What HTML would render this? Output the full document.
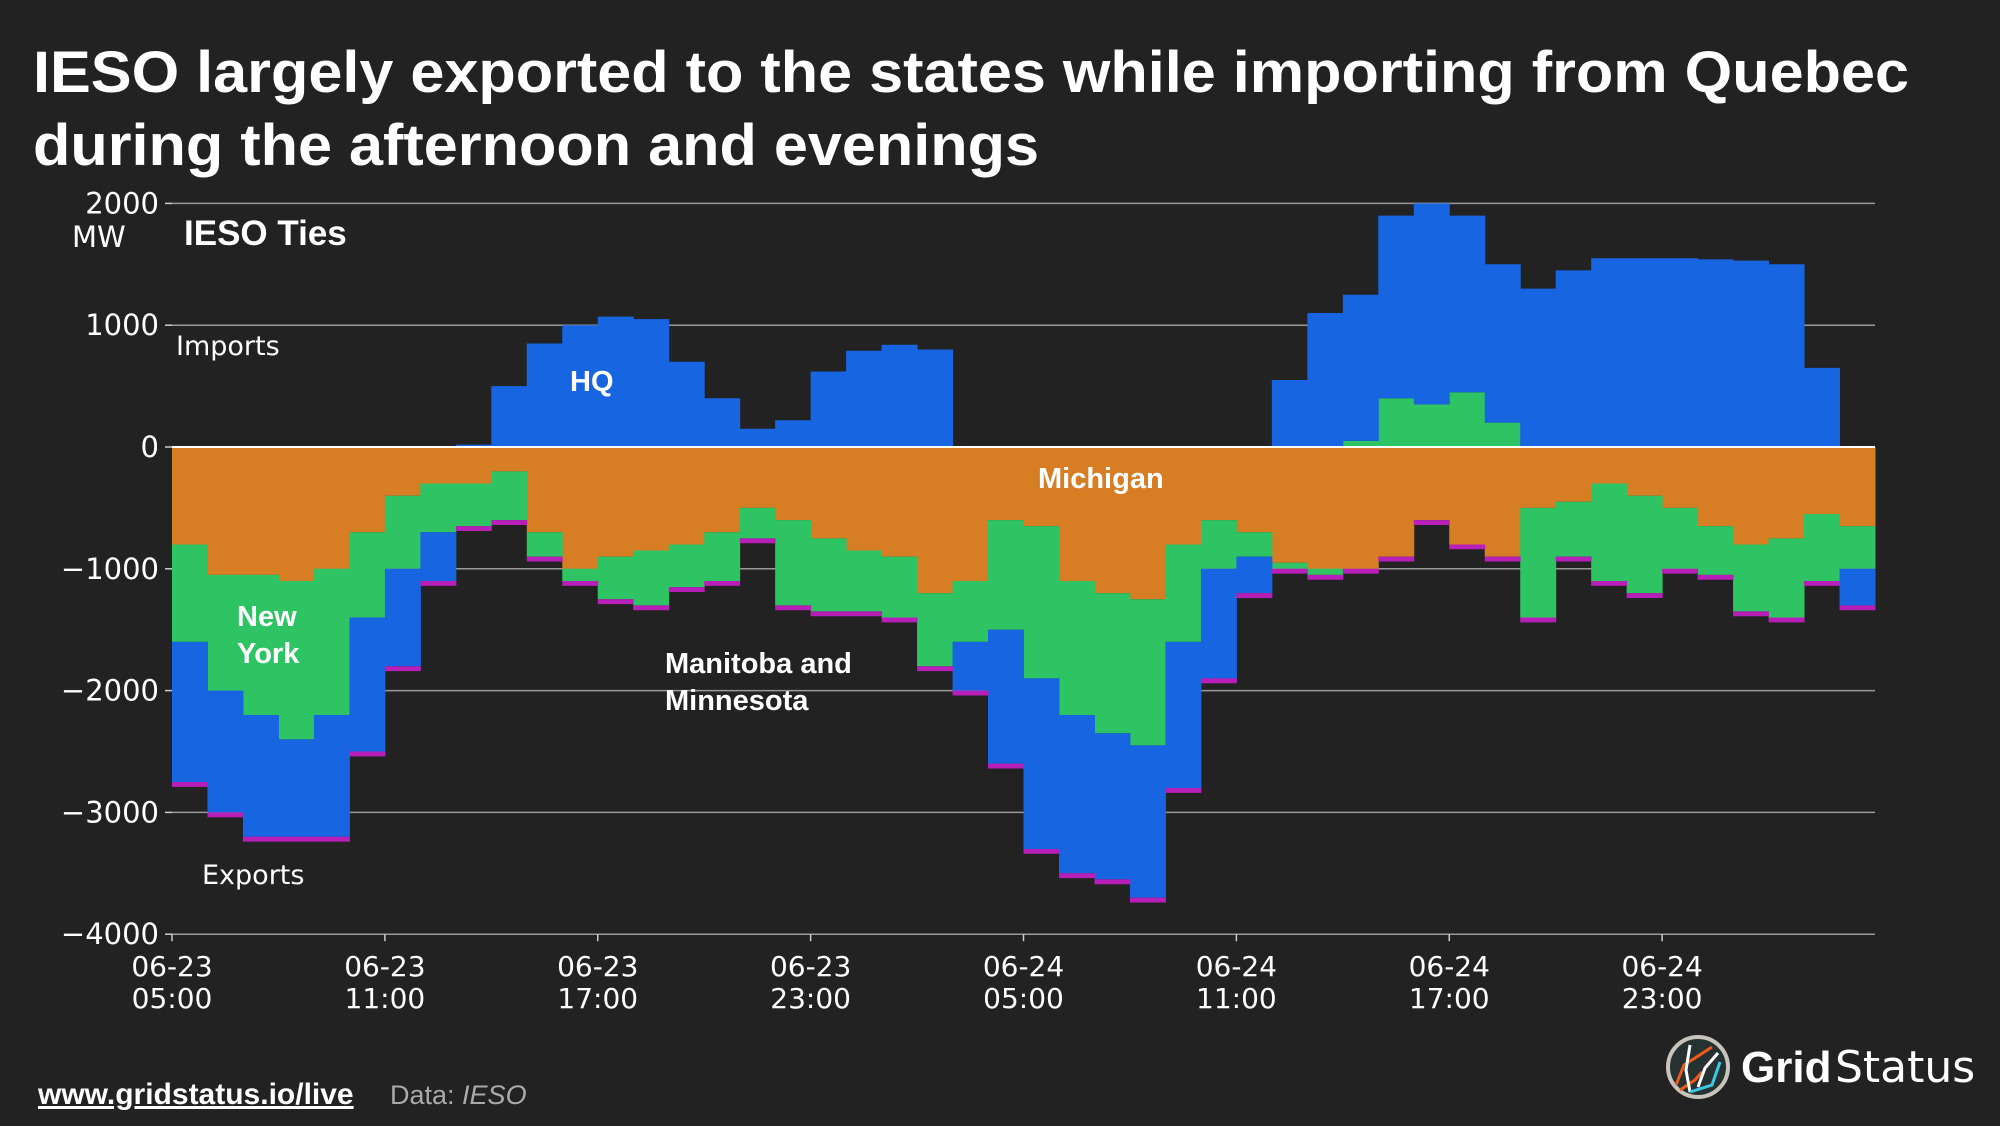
<!DOCTYPE html>
<html><head><meta charset="utf-8"><style>
html,body{margin:0;padding:0;background:#222;}
svg{display:block;}
.t{font-family:"DejaVu Sans","Liberation Sans",sans-serif;fill:#fff;}
.b{font-family:"Liberation Sans",sans-serif;font-weight:bold;fill:#fff;}
</style></head><body>
<svg id="chart" width="2000" height="1126" viewBox="0 0 2000 1126" xmlns="http://www.w3.org/2000/svg">
<rect width="2000" height="1126" fill="#222222"/>
<text class="b" x="33" y="92" font-size="58" textLength="1876" lengthAdjust="spacingAndGlyphs">IESO largely exported to the states while importing from Quebec</text>
<text class="b" x="33" y="165" font-size="58" textLength="1006" lengthAdjust="spacingAndGlyphs">during the afternoon and evenings</text>
<g id="grid"></g>
<g id="areas"></g>
<g id="axes"></g>
<text class="t" x="72" y="247" font-size="29">MW</text>
<text class="b" x="184" y="245" font-size="35">IESO Ties</text>
<text class="t" x="176" y="355" font-size="27" font-family="Liberation Sans">Imports</text>
<text class="t" x="202" y="884" font-size="27" font-family="Liberation Sans">Exports</text>
<text class="b" x="570" y="391" font-size="29">HQ</text>
<text class="b" x="1038" y="488" font-size="29">Michigan</text>
<text class="b" x="237" y="626" font-size="29">New</text>
<text class="b" x="237" y="663" font-size="29">York</text>
<text class="b" x="665" y="673" font-size="29">Manitoba and</text>
<text class="b" x="665" y="710" font-size="29">Minnesota</text>
<a><text class="b" x="38" y="1104" font-size="30" text-decoration="underline">www.gridstatus.io/live</text></a>
<text x="390" y="1104" font-size="27" font-family="Liberation Sans" fill="#aaa">Data: <tspan font-style="italic">IESO</tspan></text>
<g>
<circle cx="1698" cy="1067" r="30" fill="#263232" stroke="#c8c4bc" stroke-width="4"/>
<path d="M1676 1085 L1684 1065 L1695 1058 L1712 1047" stroke="#f05a1a" stroke-width="3" fill="none"/>
<path d="M1680 1090 L1695 1080 L1702 1072" stroke="#f05a1a" stroke-width="3" fill="none"/>
<path d="M1690 1045 L1686 1070 L1690 1092" stroke="#fff" stroke-width="3" fill="none"/>
<path d="M1718 1053 L1705 1068 L1698 1087" stroke="#fff" stroke-width="3" fill="none"/>
<path d="M1720 1062 L1712 1085 L1690 1092" stroke="#3cc8e0" stroke-width="3" fill="none"/>
<text class="b" x="1741" y="1082" font-size="44">Grid</text>
<text class="t" x="1835" y="1082" font-size="44" font-family="Liberation Sans">Status</text>
</g>
</svg>
<script>
const hours = 48;
const xTickLabels = [["06-23","05:00"],["06-23","11:00"],["06-23","17:00"],["06-23","23:00"],["06-24","05:00"],["06-24","11:00"],["06-24","17:00"],["06-24","23:00"]];
const yTicks = [2000,1000,0,-1000,-2000,-3000,-4000];
const michigan = [-800,-1050,-1050,-1100,-1000,-700,-400,-300,-300,-200,-700,-1000,-900,-850,-800,-700,-500,-600,-750,-850,-900,-1200,-1100,-600,-650,-1100,-1200,-1250,-800,-600,-700,-950,-1000,-1000,-900,-600,-800,-900,-500,-450,-300,-400,-500,-650,-800,-750,-550,-650];
const newYork = [-800,-950,-1150,-1300,-1200,-700,-600,-400,-350,-400,-200,-100,-350,-450,-350,-400,-250,-700,-600,-500,-500,-600,-500,-900,-1250,-1100,-1150,-1200,-800,-400,-200,-50,-50,50,400,350,450,200,-900,-450,-800,-800,-500,-400,-550,-650,-550,-350];
const hq = [-1150,-1000,-1000,-800,-1000,-1100,-800,-400,20,500,850,1000,1070,1050,700,400,150,220,620,790,840,800,-400,-1100,-1400,-1300,-1200,-1250,-1200,-900,-300,550,1100,1200,1500,1650,1450,1300,1300,1450,1550,1550,1550,1540,1530,1500,650,-300];
const manitoba = [-40,-40,-40,-40,-40,-40,-40,-40,-40,-40,-40,-40,-40,-40,-40,-40,-40,-40,-40,-40,-40,-40,-40,-40,-40,-40,-40,-40,-40,-40,-40,-40,-40,-40,-40,-40,-40,-40,-40,-40,-40,-40,-40,-40,-40,-40,-40,-40];

const NS="http://www.w3.org/2000/svg";
const X0=172,X1=1875,Y0=447,PER=121.8;
const xs=h=>X0+(X1-X0)*h/hours;
const ys=v=>Y0-v*PER/1000;
function mk(tag,attrs,parent){const e=document.createElementNS(NS,tag);for(const k in attrs)e.setAttribute(k,attrs[k]);parent.appendChild(e);return e;}
const grid=document.getElementById('grid'),areas=document.getElementById('areas'),axes=document.getElementById('axes');
yTicks.forEach(v=>{
  const l=mk('line',{x1:X0,x2:X1,y1:ys(v),y2:ys(v),stroke:'#9a9a9a','stroke-width':1.5},grid);
  
  
  const tk=mk('line',{x1:X0-7,x2:X0,y1:ys(v),y2:ys(v),stroke:'#ccc','stroke-width':1.5},axes);
  
  
  const t=mk('text',{x:X0-13,y:ys(v)+10,'font-size':29,'text-anchor':'end',class:'t'},axes);
  t.textContent=(v<0?'\u2212'+(-v):String(v));
  
  
});
xTickLabels.forEach((lab,i)=>{
  const x=xs(i*6);
  const tk=mk('line',{x1:x,x2:x,y1:ys(-4000),y2:ys(-4000)+7,stroke:'#ccc','stroke-width':1.5},axes);
  
  
  const t=mk('text',{x:x,y:976,'font-size':28,'text-anchor':'middle',class:'t'},axes);
  
  
  const a=mk('tspan',{x:x,dy:0},t);a.textContent=lab[0];
  const b=mk('tspan',{x:x,dy:32},t);b.textContent=lab[1];
});
const series=[["michigan",michigan,"#d77e25"],["new-york",newYork,"#2fc463"],["hq",hq,"#1865e2"],["manitoba-minnesota",manitoba,"#b81fb8"]];
const posBase=new Array(hours).fill(0),negBase=new Array(hours).fill(0);
series.forEach(([name,vals,col])=>{
  let d='';
  for(let h=0;h<hours;h++){
    const v=vals[h];if(!v)continue;
    const base=v>0?posBase[h]:negBase[h];
    const top=base+v;
    const xa=xs(h),xb=xs(h+1)+0.5;
    d+=`M${xa},${ys(base)}H${xb}V${ys(top)}H${xa}Z`;
    if(v>0)posBase[h]=top;else negBase[h]=top;
  }
  const p=mk('path',{d:d,fill:col},areas);
  
  
});
const z=mk('line',{x1:X0,x2:X1,y1:Y0,y2:Y0,stroke:'#fff','stroke-width':2},axes);


</script>
</body></html>
